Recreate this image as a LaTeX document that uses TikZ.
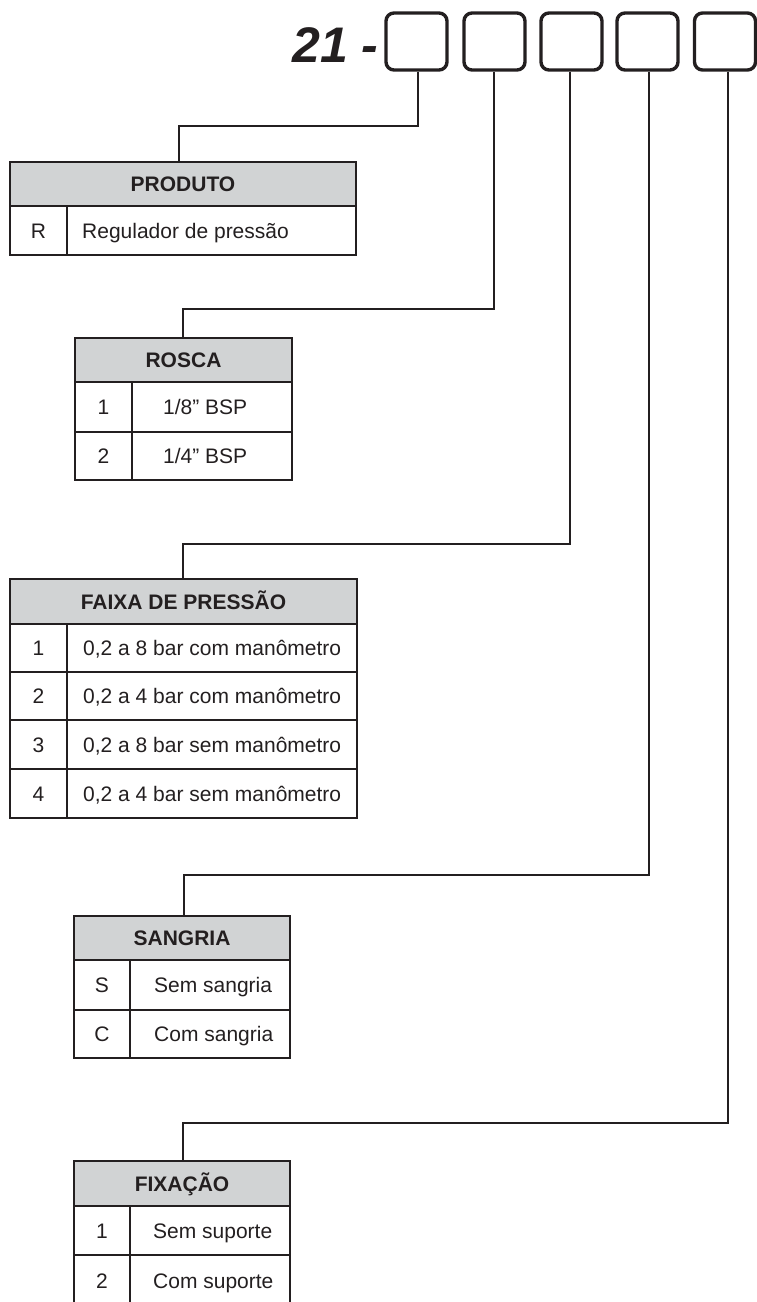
\documentclass[tikz,border=0pt]{standalone}
\usepackage{fontspec}
\setmainfont{Liberation Sans}
\definecolor{ink}{HTML}{231F20}
\definecolor{hdrgray}{HTML}{D1D3D4}
\tikzset{
  grid/.style={draw=ink, line width=2.6pt},
  hdr/.style={draw=ink, fill=hdrgray, line width=2.6pt, text=ink, inner sep=0pt,
    font=\bfseries\fontsize{21}{24}\selectfont, text height=15.1pt, text depth=0pt},
  txt/.style={text=ink, inner sep=0pt, font=\fontsize{21}{24}\selectfont,
    text height=15.1pt, text depth=0pt},
  conn/.style={draw=ink, line width=2.2pt},
  slot/.style={draw=ink, line width=3.4pt, rounded corners=8pt,
    minimum width=61pt, minimum height=57pt, inner sep=0pt}
}
\begin{document}
\begin{tikzpicture}[x=1pt,y=-1pt]
\useasboundingbox (0,0) rectangle (757,1302);
\clip (0,0) rectangle (757,1302);

% title and slots
\node[text=ink, inner sep=0pt, anchor=base west, font=\bfseries\itshape\fontsize{50}{60}\selectfont] (t21) at (292,62) {21 -};
\node[slot] (b1) at (416.5,41.5) {};
\node[slot] (b2) at (494.5,41.5) {};
\node[slot] (b3) at (571.5,41.5) {};
\node[slot] (b4) at (647.5,41.5) {};
\node[slot] (b5) at (725,41.5) {};

% PRODUTO
\draw[grid] (10,206) rectangle (356,255);
\draw[grid] (67,206) -- (67,255);
\node[hdr, minimum width=346pt, minimum height=44pt] (h1) at (183,184) {PRODUTO};
\node[txt] (p1k) at (38.5,230.5) {R};
\node[txt, anchor=west] (p1v) at (82,230.5) {Regulador de pressão};

% ROSCA
\draw[grid] (75,382) rectangle (292,480);
\draw[grid] (132,382) -- (132,480);
\draw[grid] (75,432) -- (292,432);
\node[hdr, minimum width=217pt, minimum height=44pt] (h2) at (183.5,360) {ROSCA};
\node[txt] (r1k) at (103.5,407) {1};
\node[txt, anchor=west] (r1v) at (163,407) {1/8” BSP};
\node[txt] (r2k) at (103.5,456) {2};
\node[txt, anchor=west] (r2v) at (163,456) {1/4” BSP};

% FAIXA DE PRESSAO
\draw[grid] (10,624) rectangle (357,818);
\draw[grid] (67,624) -- (67,818);
\draw[grid] (10,672) -- (357,672);
\draw[grid] (10,720) -- (357,720);
\draw[grid] (10,769) -- (357,769);
\node[hdr, minimum width=347pt, minimum height=45pt] (h3) at (183.5,601.5) {FAIXA DE PRESSÃO};
\node[txt] (f1k) at (38.5,648) {1};
\node[txt, anchor=west] (f1v) at (83,648) {0,2 a 8 bar com manômetro};
\node[txt] (f2k) at (38.5,696) {2};
\node[txt, anchor=west] (f2v) at (83,696) {0,2 a 4 bar com manômetro};
\node[txt] (f3k) at (38.5,744.5) {3};
\node[txt, anchor=west] (f3v) at (83,744.5) {0,2 a 8 bar sem manômetro};
\node[txt] (f4k) at (38.5,793.5) {4};
\node[txt, anchor=west] (f4v) at (83,793.5) {0,2 a 4 bar sem manômetro};

% SANGRIA
\draw[grid] (74,960) rectangle (290,1058);
\draw[grid] (130,960) -- (130,1058);
\draw[grid] (74,1010) -- (290,1010);
\node[hdr, minimum width=216pt, minimum height=44pt] (h4) at (182,938) {SANGRIA};
\node[txt] (s1k) at (102,985) {S};
\node[txt, anchor=west] (s1v) at (154,985) {Sem sangria};
\node[txt] (s2k) at (102,1034) {C};
\node[txt, anchor=west] (s2v) at (154,1034) {Com sangria};

% FIXACAO
\draw[grid] (74,1206) rectangle (290,1320);
\draw[grid] (130,1206) -- (130,1320);
\draw[grid] (74,1255) -- (290,1255);
\node[hdr, minimum width=216pt, minimum height=45pt] (h5) at (182,1183.5) {FIXAÇÃO};
\node[txt] (x1k) at (102,1230.5) {1};
\node[txt, anchor=west] (x1v) at (153,1230.5) {Sem suporte};
\node[txt] (x2k) at (102,1281) {2};
\node[txt, anchor=west] (x2v) at (153,1281) {Com suporte};

% connectors
\draw[conn] ([xshift=1.5pt]b1.south) -- ++(0,54) -| ([xshift=-4pt]h1.north);
\draw[conn] ([xshift=-0.5pt]b2.south) -- ++(0,237) -| ([xshift=-0.5pt]h2.north);
\draw[conn] ([xshift=-1.5pt]b3.south) -- ++(0,472) -| ([xshift=-0.5pt]h3.north);
\draw[conn] ([xshift=1.5pt]b4.south) -- ++(0,803) -| ([xshift=2pt]h4.north);
\draw[conn] ([xshift=3pt]b5.south) -- ++(0,1051) -| ([xshift=1pt]h5.north);
\end{tikzpicture}
\end{document}
